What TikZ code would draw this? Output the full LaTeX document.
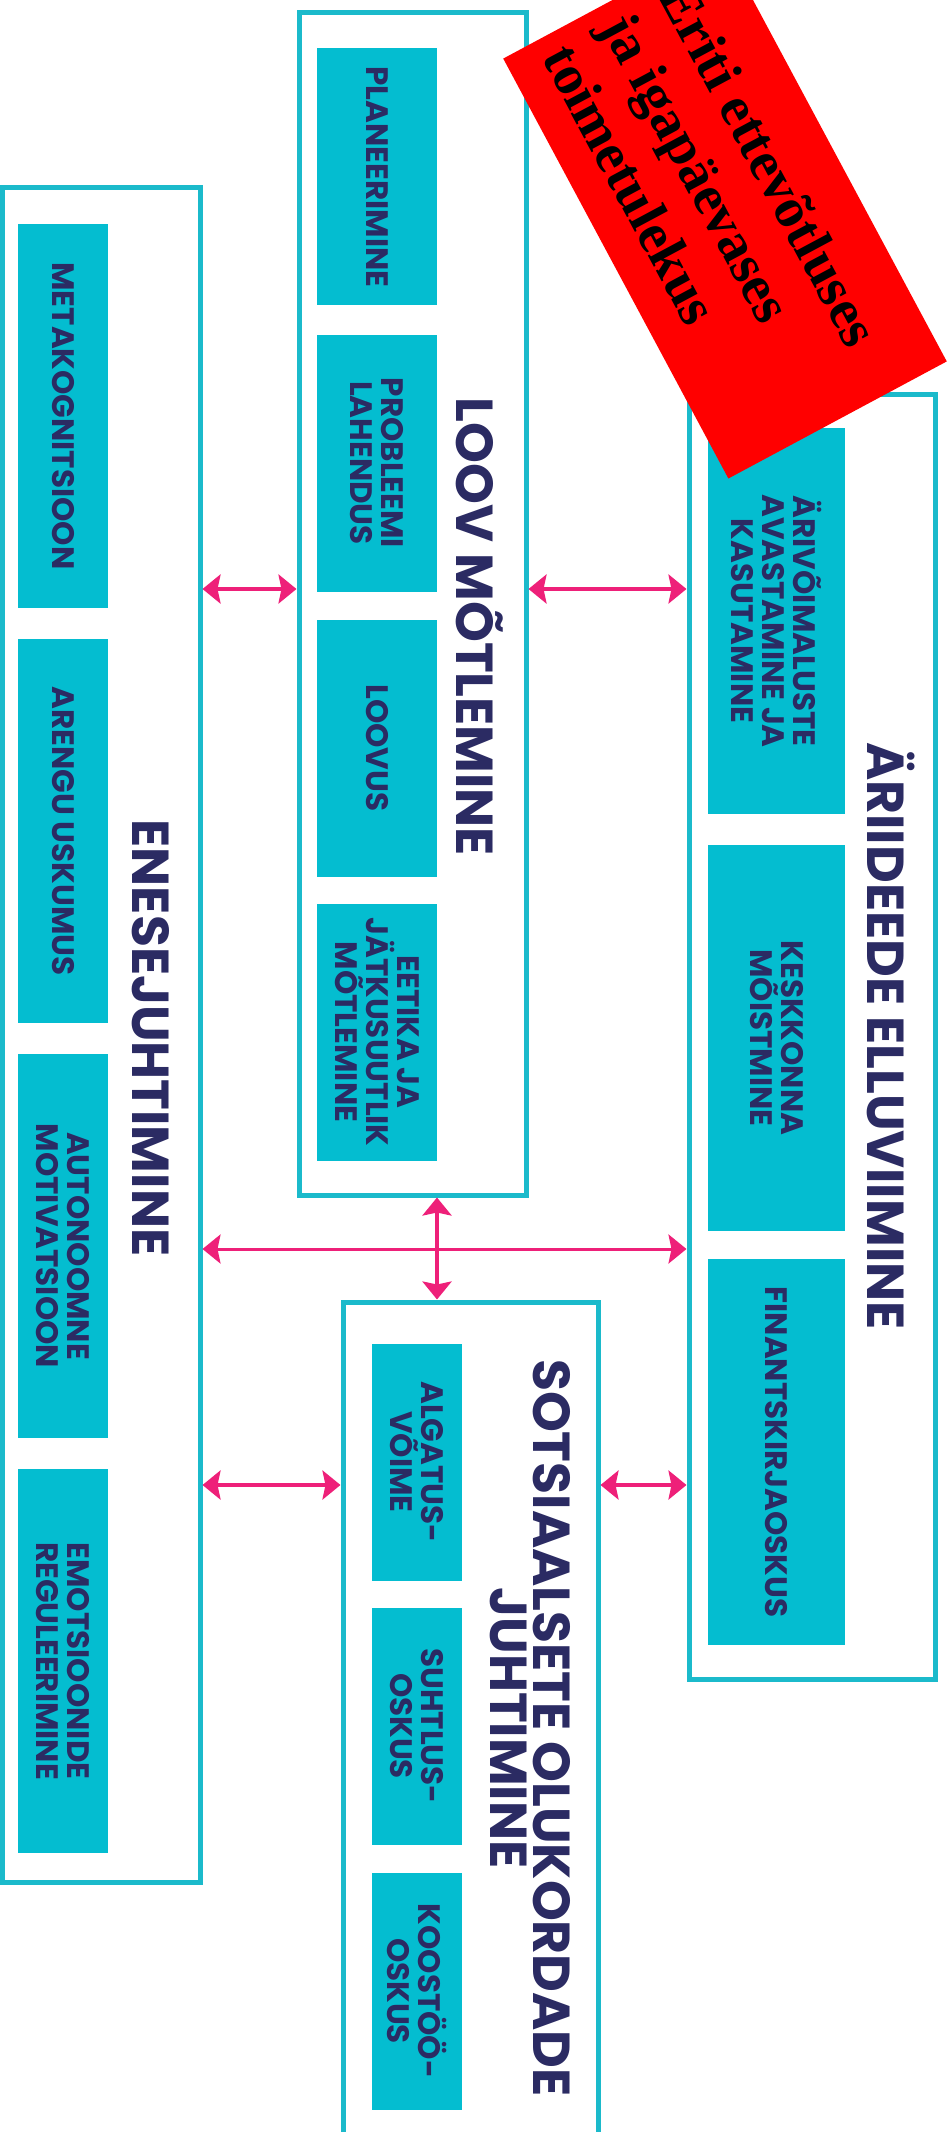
\documentclass[tikz,border=0pt]{standalone}
\usepackage{fontspec}
\usetikzlibrary{arrows.meta}
\setmainfont{Poppins}
\newfontfamily\titlefont{Poppins}[UprightFont={* Bold}]
\newfontfamily\itemfont{Poppins}[UprightFont={* Bold}]
\newfontfamily\bannerfont{Liberation Serif}
\definecolor{boxline}{HTML}{1BBACB}
\definecolor{itemfill}{HTML}{04BDD0}
\definecolor{navy}{HTML}{2B2B63}
\definecolor{linkpink}{HTML}{EE2079}
\definecolor{bannerred}{HTML}{FF0000}
\begin{document}
\begin{tikzpicture}[x=1pt,y=-1pt,
  outerbox/.style={draw=boxline, line width=5pt, fill=white, inner sep=0pt, rectangle},
  itembox/.style={fill=itemfill, text=navy, inner sep=0pt, rotate=-90, align=center,
    font={\itemfont\fontsize{31}{31}\selectfont}},
  titletext/.style={text=navy, rotate=-90, align=center, inner sep=0pt,
    font={\titlefont\fontsize{52}{43}\selectfont}},
  link/.style={draw=linkpink, line width=4pt,
    {Stealth[length=18pt,width=29pt,inset=3pt]}-{Stealth[length=18pt,width=29pt,inset=3pt]}},
  banner/.style={fill=bannerred, text=black, inner sep=0pt, align=flush left,
    font={\bannerfont\bfseries\fontsize{56}{66}\selectfont}},
]
\useasboundingbox (0,0) rectangle (948,2132);
\clip (0,0) rectangle (948,2132);
\fill[white] (0,0) rectangle (948,2132);

% outer boxes
\node[outerbox, minimum width=197.5, minimum height=1694] (ene) at (101.25,1035) {};
\node[outerbox, minimum width=227, minimum height=1182] (loov) at (412.5,604) {};
\node[outerbox, minimum width=246, minimum height=1285] (ari) at (812,1036.5) {};
\node[outerbox, minimum width=255, minimum height=858] (sots) at (470.5,1731) {};

% titles
\node[titletext] (te) at (151,1038) {ENESEJUHTIMINE};
\node[titletext] (tl) at (480,627) {LOOV MÕTLEMINE};
\node[titletext] (ta) at (891,1036) {ÄRIIDEEDE ELLUVIIMINE};
\node[titletext] (ts) at (530,1728) {SOTSIAALSETE OLUKORDADE\\JUHTIMINE};

% ENESEJUHTIMINE items
\node[itembox, minimum width=384, minimum height=90] (e1) at (63,416) {METAKOGNITSIOON};
\node[itembox, minimum width=384, minimum height=90] (e2) at (63,831) {ARENGU USKUMUS};
\node[itembox, minimum width=384, minimum height=90] (e3) at (63,1246) {AUTONOOMNE\\MOTIVATSIOON};
\node[itembox, minimum width=384, minimum height=90] (e4) at (63,1661) {EMOTSIOONIDE\\REGULEERIMINE};

% LOOV MÕTLEMINE items
\node[itembox, minimum width=257, minimum height=120] (l1) at (377,177) {PLANEERIMINE};
\node[itembox, minimum width=257, minimum height=120] (l2) at (377,463) {PROBLEEMI\\LAHENDUS};
\node[itembox, minimum width=257, minimum height=120] (l3) at (377,748) {LOOVUS};
\node[itembox, minimum width=257, minimum height=120] (l4) at (377,1032) {EETIKA JA\\JÄTKUSUUTLIK\\MÕTLEMINE};

% ÄRIIDEEDE items
\node[itembox, minimum width=386, minimum height=137] (a1) at (776.5,621) {ÄRIVÕIMALUSTE\\AVASTAMINE JA\\KASUTAMINE};
\node[itembox, minimum width=386, minimum height=137] (a2) at (776.5,1038) {KESKKONNA\\MÕISTMINE};
\node[itembox, minimum width=386, minimum height=137] (a3) at (776.5,1452) {FINANTSKIRJAOSKUS};

% SOTSIAALSETE items
\node[itembox, minimum width=237, minimum height=90] (s1) at (417,1462) {ALGATUS-\\VÕIME};
\node[itembox, minimum width=237, minimum height=90] (s2) at (417,1726) {SUHTLUS-\\OSKUS};
\node[itembox, minimum width=237, minimum height=90] (s3) at (417,1991) {KOOSTÖÖ-\\OSKUS};

% connector rows
\coordinate (r1) at (0,589);
\coordinate (r2) at (0,1249);
\coordinate (r3) at (0,1485);
\coordinate (cv) at (437,0);

\draw[link] (ene.east |- r1) -- (loov.west |- r1);
\draw[link] (loov.east |- r1) -- (ari.west |- r1);
\draw[link, line width=3pt] (ene.east |- r2) -- (ari.west |- r2);
\draw[link] (loov.south -| cv) -- (sots.north -| cv);
\draw[link] (ene.east |- r3) -- (sots.west |- r3);
\draw[link] (sots.east |- r3) -- (ari.west |- r3);

% red banner
\node[banner, rotate=-61.8, minimum width=476.5, minimum height=247.8, text width=442] (ban) at (725,210)
  {Ériti ettevõtluses\\ja igapäevases\\toimetulekus};
\end{tikzpicture}
\end{document}
